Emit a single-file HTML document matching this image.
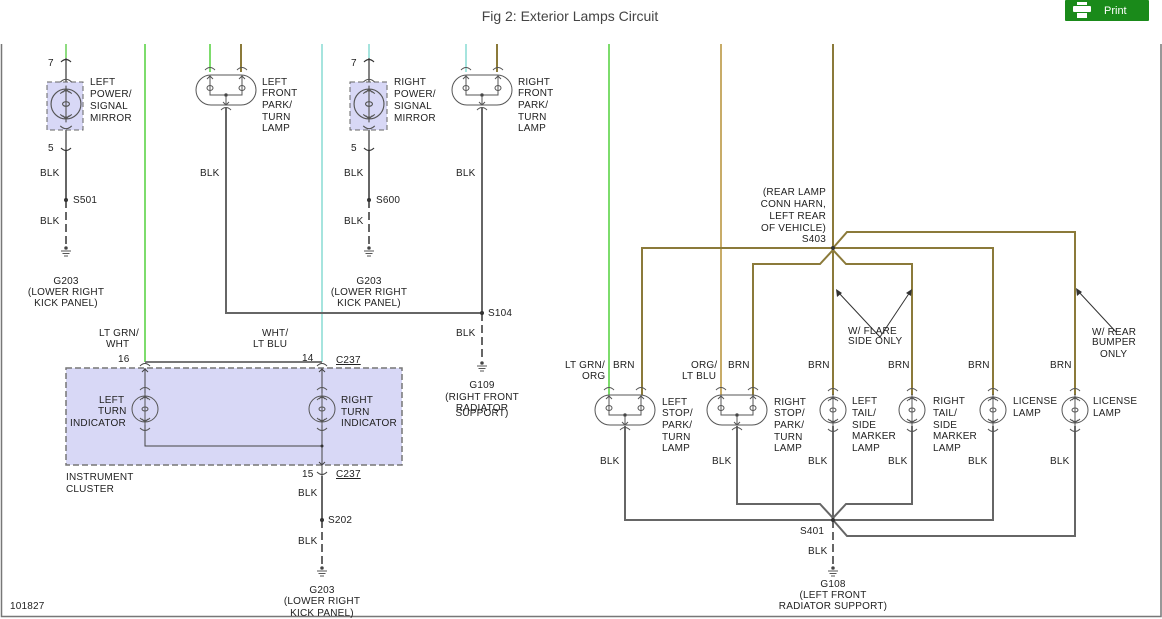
<!DOCTYPE html>
<html><head><meta charset="utf-8"><style>
body{margin:0;background:#fff;width:1162px;height:619px;overflow:hidden}
svg{display:block}
text{font-family:"Liberation Sans",sans-serif;font-size:10px;fill:#222;letter-spacing:0.2px}
</style></head><body>
<svg width="1162" height="619" viewBox="0 0 1162 619" xmlns="http://www.w3.org/2000/svg">
<defs>
<g id="dl" fill="none" stroke="#555" stroke-width="1">
 <rect x="-30" y="-15" width="60" height="30" rx="15"/>
 <path d="M-16,-15 V5 H16 V-15 M0,5 V15"/>
 <ellipse cx="-16" cy="-2" rx="3" ry="2.5"/><ellipse cx="16" cy="-2" rx="3" ry="2.5"/>
 <path d="M-19,-11 l3,-3 l3,3 M13,-11 l3,-3 l3,3 M-3,12 l3,3 l3,-3"/>
 <circle cx="0" cy="5" r="1.3" fill="#333"/>
 <path d="M-21,-20 q5,-5 10,0 M11,-20 q5,-5 10,0 M-5,20 q5,-5 10,0"/>
</g>
<g id="sl" fill="none" stroke="#555" stroke-width="1">
 <circle r="13"/>
 <path d="M0,-16 V16 M-3,-10 l3,-3 l3,3 M-3,10 l3,3 l3,-3 M-5,-9 q5,-5 10,0 M-5,9 q5,5 10,0"/>
 <ellipse cx="0" cy="0" rx="3" ry="2"/>
 <path d="M-5,-19 q5,-5 10,0 M-5,19 q5,5 10,0"/>
</g>
<g id="gnd" stroke="#555" stroke-width="1"><circle r="1.3" fill="#333"/><path d="M-5,3 H5 M-3.5,5.5 H3.5 M-2,8 H2"/></g>
</defs>
<text x="570" y="21" text-anchor="middle" style="font-size:14px;fill:#444;letter-spacing:0">Fig 2: Exterior Lamps Circuit</text>
<rect x="1065" y="0" width="84" height="21" fill="#1a8a1a" rx="1"/>
<rect x="1077" y="2" width="10" height="3" fill="#fff"/><rect x="1073" y="6" width="18" height="6" rx="1" fill="#fff"/><rect x="1077" y="13" width="10" height="5" fill="#fff"/>
<text x="1104" y="14" style="font-size:11px;fill:#fff;letter-spacing:0">Print</text>
<path d="M1.5,44 V616.5 H1161 V44" fill="none" stroke="#777" stroke-width="1.5"/>

<g stroke-width="2" fill="none">
<path d="M66,44 V58" stroke="#8edc80"/>
<path d="M145,44 V362" stroke="#7ddc6c"/>
<path d="M322,44 V362" stroke="#a6e4de"/>
<path d="M369,44 V58" stroke="#a6e4de"/>
<path d="M210,44 V72" stroke="#7ddc6c"/><path d="M241,44 V72" stroke="#8b7a3a"/>
<path d="M466,44 V72" stroke="#a6e4de"/><path d="M497,44 V72" stroke="#8b7a3a"/>
<path d="M609,44 V395" stroke="#7ddc6c"/>
<path d="M721,44 V395" stroke="#c8ac68"/>
<path d="M833,44 V395" stroke="#8b7a3a"/>
<g stroke="#8b7a3a">
<path d="M642,395 V248 H993 V395"/>
<path d="M753,395 V264 H820 L833,250 L846,264 H912 V395"/>
<path d="M833,248 L847,232 H1075 V395"/>
</g>
<g stroke="#666">
<path d="M66,150 V200"/><path d="M369,150 V200"/>
<path d="M226,108 V313 H482"/><path d="M482,108 V313"/>
<path d="M145,362 H322" stroke="#777"/>
<path d="M322,476 V520"/>
<path d="M625,426 V520 H833 M737,426 V504 H820 L833,518 L846,504 H912 V426 M833,426 V520 H993 V426 M833,520 L847,536 H1075 V426"/>
</g>
<g stroke="#666" stroke-dasharray="8,4">
<path d="M66,200 V245"/><path d="M369,200 V245"/><path d="M482,313 V360"/><path d="M322,520 V567"/><path d="M833,520 V567"/>
</g>
</g>
<g stroke="#333" stroke-width="1.2" fill="none">
<path d="M66,58 V150"/><path d="M369,58 V150"/>
<path d="M61,62 q5,-5 10,0 M61,148 q5,5 10,0 M364,62 q5,-5 10,0 M364,148 q5,5 10,0"/>
</g>
<rect x="47" y="82" width="36" height="48" fill="#d8d8f6" stroke="#666" stroke-dasharray="5,3"/>
<rect x="350" y="82" width="37" height="48" fill="#d8d8f6" stroke="#666" stroke-dasharray="5,3"/>
<use href="#sl" transform="translate(66,104) scale(1.15)"/><use href="#sl" transform="translate(369,104) scale(1.15)"/>
<use href="#dl" x="226" y="90"/><use href="#dl" x="482" y="90"/>
<g fill="#333"><circle cx="66" cy="200" r="2"/><circle cx="369" cy="200" r="2"/><circle cx="482" cy="313" r="2"/><circle cx="322" cy="520" r="2"/><circle cx="833" cy="248" r="2"/><circle cx="833" cy="520" r="2"/></g>
<use href="#gnd" x="66" y="248"/><use href="#gnd" x="369" y="248"/><use href="#gnd" x="482" y="363"/><use href="#gnd" x="322" y="568"/><use href="#gnd" x="833" y="568"/>

<rect x="66" y="368" width="336" height="97" fill="#d8d8f6" stroke="#777" stroke-width="1.5" stroke-dasharray="6,3"/>
<g stroke="#444" fill="none" stroke-width="1">
<path d="M145,368 V446 H322 M322,368 V476"/>
<path d="M140,366 q5,-5 10,0 M317,366 q5,-5 10,0 M317,472 q5,5 10,0 M142,372 l3,-3 l3,3 M319,372 l3,-3 l3,3 M319,462 l3,3 l3,-3"/>
</g>
<use href="#sl" x="145" y="409"/><use href="#sl" x="322" y="409"/>
<circle cx="322" cy="446" r="1.5" fill="#333"/>

<use href="#dl" x="625" y="410"/><use href="#dl" x="737" y="410"/>
<use href="#sl" x="833" y="410"/><use href="#sl" x="912" y="410"/><use href="#sl" x="993" y="410"/><use href="#sl" x="1075" y="410"/>
<g stroke="#333" fill="none"><path d="M880,337 L838,292 M880,337 L910,292 M1116,332 L1078,291"/></g>
<g fill="#333"><path d="M836,289 l1,8 l5,-4z M912,289 l-6,4 l5,3z M1076,288 l1,8 l5,-4z"/></g>

<g>
<text x="48" y="66">7</text><text x="48" y="151">5</text>
<text x="90" y="85">LEFT</text><text x="90" y="97">POWER/</text><text x="90" y="109">SIGNAL</text><text x="90" y="121">MIRROR</text>
<text x="40" y="176">BLK</text><text x="73" y="203">S501</text><text x="40" y="224">BLK</text>
<text x="66" y="284" text-anchor="middle">G203</text><text x="66" y="295" text-anchor="middle">(LOWER RIGHT</text><text x="66" y="306" text-anchor="middle">KICK PANEL)</text>
<text x="262" y="85">LEFT</text><text x="262" y="96">FRONT</text><text x="262" y="108">PARK/</text><text x="262" y="120">TURN</text><text x="262" y="131">LAMP</text>
<text x="200" y="176">BLK</text>
<text x="351" y="66">7</text><text x="351" y="151">5</text>
<text x="394" y="85">RIGHT</text><text x="394" y="97">POWER/</text><text x="394" y="109">SIGNAL</text><text x="394" y="121">MIRROR</text>
<text x="344" y="176">BLK</text><text x="376" y="203">S600</text><text x="344" y="224">BLK</text>
<text x="369" y="284" text-anchor="middle">G203</text><text x="369" y="295" text-anchor="middle">(LOWER RIGHT</text><text x="369" y="306" text-anchor="middle">KICK PANEL)</text>
<text x="518" y="85">RIGHT</text><text x="518" y="96">FRONT</text><text x="518" y="108">PARK/</text><text x="518" y="120">TURN</text><text x="518" y="131">LAMP</text>
<text x="456" y="176">BLK</text><text x="488" y="316">S104</text><text x="456" y="336">BLK</text>
<text x="482" y="388" text-anchor="middle">G109</text><text x="482" y="400" text-anchor="middle">(RIGHT FRONT</text><text x="482" y="411" text-anchor="middle">RADIATOR</text><text x="482" y="416" text-anchor="middle">SUPPORT)</text>
<text x="99" y="336">LT GRN/</text><text x="106" y="347">WHT</text>
<text x="262" y="336">WHT/</text><text x="253" y="347">LT BLU</text>
<text x="118" y="362">16</text><text x="302" y="361">14</text>
<text x="336" y="363" text-decoration="underline">C237</text>
<text x="99" y="403">LEFT</text><text x="98" y="414">TURN</text><text x="70" y="426">INDICATOR</text>
<text x="341" y="403">RIGHT</text><text x="341" y="415">TURN</text><text x="341" y="426">INDICATOR</text>
<text x="66" y="480">INSTRUMENT</text><text x="66" y="492">CLUSTER</text>
<text x="302" y="477">15</text><text x="336" y="477" text-decoration="underline">C237</text>
<text x="298" y="496">BLK</text><text x="328" y="523">S202</text><text x="298" y="544">BLK</text>
<text x="322" y="593" text-anchor="middle">G203</text><text x="322" y="604" text-anchor="middle">(LOWER RIGHT</text><text x="322" y="616" text-anchor="middle">KICK PANEL)</text>
<text x="10" y="609">101827</text>

<text x="826" y="195" text-anchor="end">(REAR LAMP</text><text x="826" y="207" text-anchor="end">CONN HARN,</text><text x="826" y="219" text-anchor="end">LEFT REAR</text><text x="826" y="231" text-anchor="end">OF VEHICLE)</text><text x="826" y="242" text-anchor="end">S403</text>
<text x="848" y="334">W/ FLARE</text><text x="848" y="344">SIDE ONLY</text>
<text x="1092" y="335">W/ REAR</text><text x="1092" y="345">BUMPER</text><text x="1100" y="357">ONLY</text>
<text x="565" y="368">LT GRN/</text><text x="582" y="379">ORG</text><text x="613" y="368">BRN</text>
<text x="691" y="368">ORG/</text><text x="682" y="379">LT BLU</text><text x="728" y="368">BRN</text>
<text x="808" y="368">BRN</text><text x="888" y="368">BRN</text><text x="968" y="368">BRN</text><text x="1050" y="368">BRN</text>
<text x="662" y="405">LEFT</text><text x="662" y="416">STOP/</text><text x="662" y="428">PARK/</text><text x="662" y="440">TURN</text><text x="662" y="451">LAMP</text>
<text x="774" y="405">RIGHT</text><text x="774" y="416">STOP/</text><text x="774" y="428">PARK/</text><text x="774" y="440">TURN</text><text x="774" y="451">LAMP</text>
<text x="852" y="404">LEFT</text><text x="852" y="416">TAIL/</text><text x="852" y="428">SIDE</text><text x="852" y="439">MARKER</text><text x="852" y="451">LAMP</text>
<text x="933" y="404">RIGHT</text><text x="933" y="416">TAIL/</text><text x="933" y="428">SIDE</text><text x="933" y="439">MARKER</text><text x="933" y="451">LAMP</text>
<text x="1013" y="404">LICENSE</text><text x="1013" y="416">LAMP</text>
<text x="1093" y="404">LICENSE</text><text x="1093" y="416">LAMP</text>
<text x="600" y="464">BLK</text><text x="712" y="464">BLK</text><text x="808" y="464">BLK</text><text x="888" y="464">BLK</text><text x="968" y="464">BLK</text><text x="1050" y="464">BLK</text>
<text x="800" y="534">S401</text><text x="808" y="554">BLK</text>
<text x="833" y="587" text-anchor="middle">G108</text><text x="833" y="598" text-anchor="middle">(LEFT FRONT</text><text x="833" y="609" text-anchor="middle">RADIATOR SUPPORT)</text>
</g>
</svg>
</body></html>
